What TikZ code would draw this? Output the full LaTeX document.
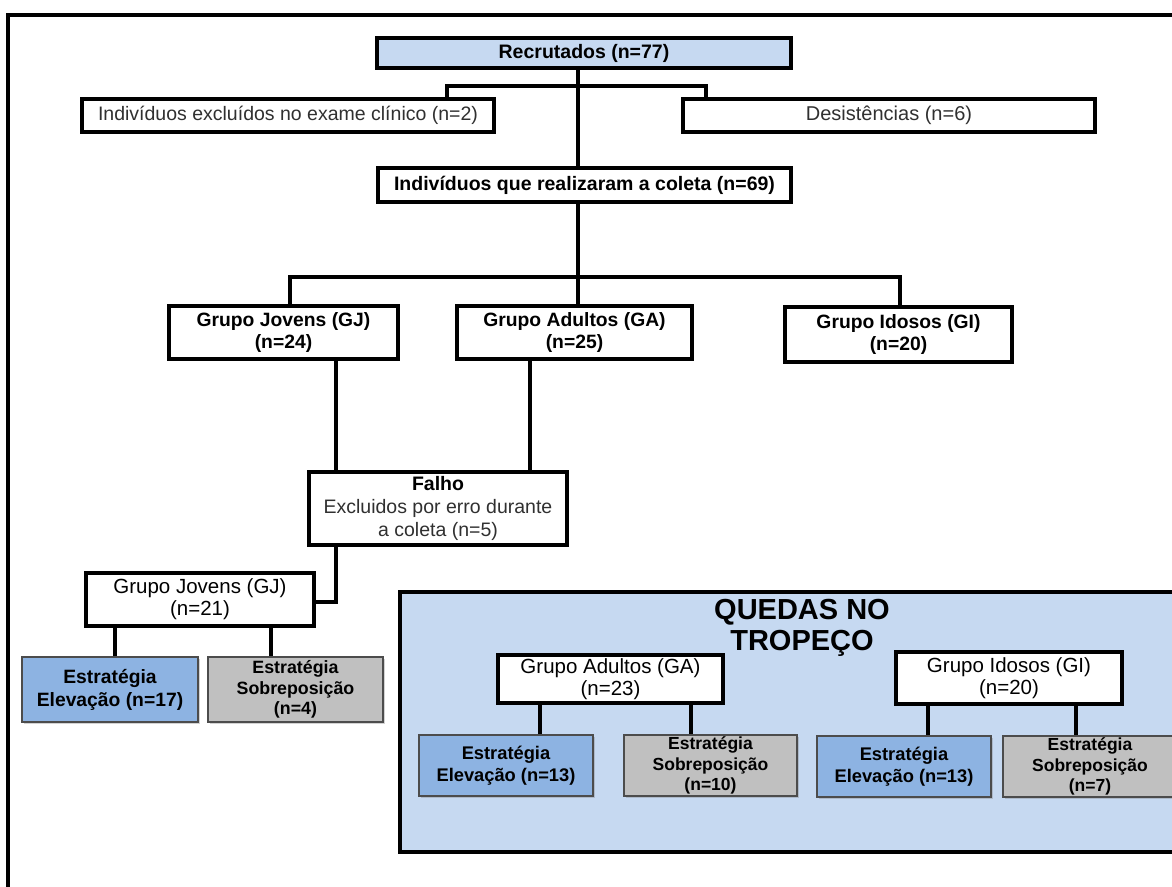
\documentclass[tikz,border=0pt]{standalone}
\usepackage{fontspec}
\setmainfont{Liberation Sans}
\usetikzlibrary{shadows}
\definecolor{lblue}{HTML}{C6D9F1}
\definecolor{mblue}{HTML}{8DB3E2}
\definecolor{lgray}{HTML}{C0C0C0}
\definecolor{txtgray}{HTML}{303030}
\newcommand{\fs}[2]{\fontsize{#1}{#2}\selectfont}
\tikzset{
  box/.style={draw, line width=3.2pt, fill=white, inner sep=0pt, align=center},
  strat/.style={draw=black!70, line width=1.2pt, inner sep=0pt, align=center,
    drop shadow={shadow xshift=1.5pt, shadow yshift=-1.5pt, opacity=0.35}},
  conn/.style={line width=3.2pt, line join=miter}
}
\begin{document}
\begin{tikzpicture}[x=1pt,y=-1pt]
\useasboundingbox (0,0) rectangle (1172,886);
\clip (0,0) rectangle (1172,886);
\fill[white] (0,0) rectangle (1172,886);
% outer frame
\draw[line width=3.2pt] (8,910) -- (8,15) -- (1200,15);
% blue container
\draw[line width=3.2pt, fill=lblue] (400,592) rectangle (1200,852);

% top boxes
\node[box, fill=lblue, minimum width=414pt, minimum height=30pt, font=\bfseries\fs{19.5}{22}] (rec) at (584,53) {Recrutados (n=77)};
\node[box, minimum width=412pt, minimum height=33pt, font=\fs{19.5}{22}, text=txtgray] (excl) at (288,115.5) {Indivíduos excluídos no exame clínico (n=2)};
\node[box, minimum width=412pt, minimum height=33pt, font=\fs{20}{22}, text=txtgray] (desist) at (889,115.5) {Desistências (n=6)};
\node[box, minimum width=413pt, minimum height=34pt, font=\bfseries\fs{19.5}{22}] (indiv) at (584.5,185) {Indivíduos que realizaram a coleta (n=69)};

% groups
\node[box, minimum width=229pt, minimum height=53pt, font=\bfseries\fs{19.3}{22}] (gj24) at (283.5,332.5) {Grupo Jovens (GJ)\\(n=24)};
\node[box, minimum width=235pt, minimum height=53pt, font=\bfseries\fs{19.3}{22}] (ga25) at (574.5,332.5) {Grupo Adultos (GA)\\(n=25)};
\node[box, minimum width=227pt, minimum height=55pt, font=\bfseries\fs{19.3}{22}] (gi24) at (898.5,334.5) {Grupo Idosos (GI)\\(n=20)};

% falho
\node[box, minimum width=258pt, minimum height=73pt, font=\fs{19.5}{23}, text=txtgray] (falho) at (438,508.5) {\textbf{\color{black}Falho}\\Excluidos por erro durante\\a coleta (n=5)};

% young
\node[box, minimum width=228pt, minimum height=53pt, font=\fs{20.5}{22}] (gj21) at (200,599.5) {Grupo Jovens (GJ)\\(n=21)};
\node[strat, fill=mblue, minimum width=176pt, minimum height=65pt, font=\bfseries\fs{19.3}{23}] (e17) at (110,689.5) {Estratégia\\Elevação (n=17)};
\node[strat, fill=lgray, minimum width=175pt, minimum height=65pt, font=\bfseries\fs{17.8}{20.5}] (s4) at (295.5,689.5) {Estratégia\\Sobreposição\\(n=4)};

% quedas
\node[font=\bfseries\fs{29}{31}, align=center, inner sep=0pt] (quedas) at (802,628) {QUEDAS NO\\TROPEÇO};
\node[box, minimum width=225pt, minimum height=48pt, font=\fs{20.5}{22}] (ga23) at (610.5,679) {Grupo Adultos (GA)\\(n=23)};
\node[box, minimum width=226pt, minimum height=52pt, font=\fs{20.5}{22}] (gi20) at (1009,678) {Grupo Idosos (GI)\\(n=20)};
\node[strat, fill=mblue, minimum width=174pt, minimum height=61pt, font=\bfseries\fs{18.3}{22}] (e13a) at (506,765.5) {Estratégia\\Elevação (n=13)};
\node[strat, fill=lgray, minimum width=173pt, minimum height=61pt, font=\bfseries\fs{17.5}{20.5}] (s10) at (710.5,765.5) {Estratégia\\Sobreposição\\(n=10)};
\node[strat, fill=mblue, minimum width=174pt, minimum height=61pt, font=\bfseries\fs{18.3}{22}] (e13b) at (904,766.5) {Estratégia\\Elevação (n=13)};
\node[strat, fill=lgray, minimum width=174pt, minimum height=61pt, font=\bfseries\fs{17.5}{20.5}] (s7) at (1090,766.5) {Estratégia\\Sobreposição\\(n=7)};

% coordinates for connectors
\coordinate (t1) at (578,86);
\coordinate (bl) at (447,86);
\coordinate (br) at (706,86);
\coordinate (t2) at (578,277);
\coordinate (bl2) at (290,277);
\coordinate (br2) at (900,277);
\coordinate (fj) at (336,602);

% connectors
\draw[conn] (rec.south -| t1) -- (indiv.north -| t1);
\draw[conn] (excl.north -| bl) -- (bl) -- (br) -- (desist.north -| br);
\draw[conn] (indiv.south -| t2) -- (t2);
\draw[conn] (gj24.north -| bl2) -- (bl2) -- (br2) -- (gi24.north -| br2);
\draw[conn] (t2) -- (ga25.north -| t2);
\draw[conn] (gj24.south -| fj) -- (falho.north -| fj);
\draw[conn] (ga25.south -| 530,0) -- (falho.north -| 530,0);
\draw[conn] (falho.south -| fj) -- (fj) -- (gj21.east |- fj);
\draw[conn] (gj21.south -| 115,0) -- (e17.north -| 115,0);
\draw[conn] (gj21.south -| 271,0) -- (s4.north -| 271,0);
\draw[conn] (ga23.south -| 540,0) -- (e13a.north -| 540,0);
\draw[conn] (ga23.south -| 691,0) -- (s10.north -| 691,0);
\draw[conn] (gi20.south -| 928,0) -- (e13b.north -| 928,0);
\draw[conn] (gi20.south -| 1076,0) -- (s7.north -| 1076,0);
\end{tikzpicture}
\end{document}
